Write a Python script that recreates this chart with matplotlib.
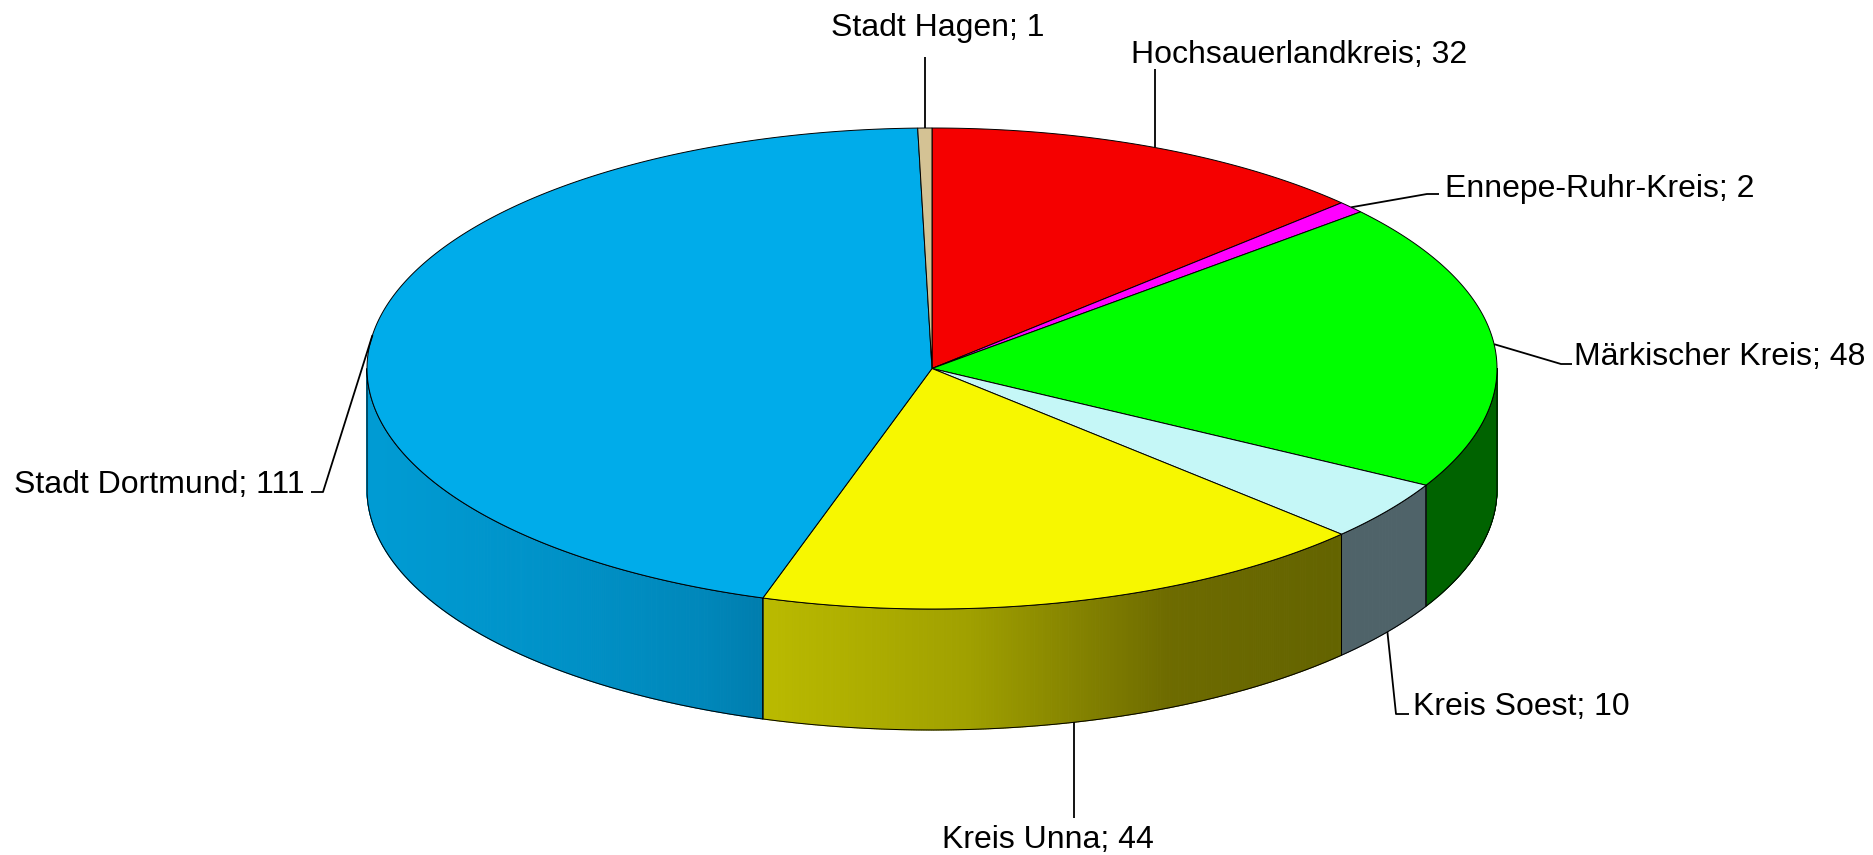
import numpy as np
import matplotlib
matplotlib.use("Agg")
import matplotlib.pyplot as plt

categories = ["Hochsauerlandkreis", "Ennepe-Ruhr-Kreis", "Märkischer Kreis", "Kreis Soest",
              "Kreis Unna", "Stadt Dortmund", "Stadt Hagen"]
values = [32, 2, 48, 10, 44, 111, 1]

top_colors = ["#f50000", "#ff00ff", "#00ff00", "#c5f7f7", "#f7f700", "#00acea", "#d4c294"]
side_stops = [
    [(0, (0.45, 0, 0))],
    [(0, (0.45, 0, 0.45))],
    [(0, (0, 0.39, 0))],
    [(0, (0.31, 0.39, 0.41))],
    [(0, (0.73, 0.73, 0)), (0.35, (0.63, 0.63, 0)), (0.7, (0.43, 0.42, 0)), (1, (0.39, 0.39, 0))],
    [(0, (0, 0.61, 0.83)), (0.5, (0, 0.57, 0.78)), (0.85, (0, 0.53, 0.73)), (1, (0, 0.49, 0.68))],
    [(0, (0.5, 0.45, 0.35))],
]
# label anchor (left x or centre x, centre y), alignment, leader elbow points
label_layout = [
    ((1131, 55), "left", [(None, 69)]),
    ((1445, 189), "left", [(1427, 194), (1439, 194)]),
    ((1574, 357), "left", [(1561, 364), (1572, 364)]),
    ((1413, 707), "left", [(1396, 714), (1409, 714)]),
    ((1048, 840), "center", [(None, 818)]),
    ((305, 485), "right", [(323, 492), (311, 492)]),
    ((938, 28), "center", [(None, 57)]),
]

CX, CY, RX, RY, DEPTH = 932, 368.5, 565, 240.5, 121
EDGE = "#000000"
plt.rcParams["font.family"] = ["Liberation Sans", "DejaVu Sans"]

fig = plt.figure(figsize=(18.73, 8.55), dpi=100)
ax = fig.add_axes([0, 0, 1, 1])
ax.set_xlim(0, 1873)
ax.set_ylim(855, 0)
ax.axis("off")


def rim(theta_deg):
    t = np.radians(theta_deg)
    return CX + RX * np.sin(t), CY - RY * np.cos(t)


def ramp(stops, f):
    pos = [s[0] for s in stops]
    return tuple(float(np.interp(f, pos, [s[1][i] for s in stops])) for i in range(3))


cum = np.concatenate([[0], np.cumsum(values)]) / np.sum(values) * 360.0

# side walls (front half only: 90..270 degrees clockwise from top)
for i in range(len(values)):
    a0, a1 = max(cum[i], 90), min(cum[i + 1], 270)
    if a1 <= a0:
        continue
    th = np.linspace(a0, a1, max(int((a1 - a0) * 4), 2))
    x, y = rim(th)
    span = abs(x[-1] - x[0])
    for k in range(len(th) - 1):
        f = (0.5 * (x[k] + x[k + 1]) - x.min()) / span
        c = ramp(side_stops[i], f)
        ax.fill([x[k], x[k + 1], x[k + 1], x[k]],
                [y[k], y[k + 1], y[k + 1] + DEPTH, y[k] + DEPTH],
                facecolor=c, edgecolor=c, linewidth=0.8, zorder=2)
    ax.plot(np.r_[x, x[::-1], x[0]], np.r_[y, y[::-1] + DEPTH, y[0]],
            color=EDGE, lw=0.7, zorder=3)

# top face
for i in range(len(values)):
    th = np.linspace(cum[i], cum[i + 1], max(int((cum[i + 1] - cum[i]) * 2), 3))
    x, y = rim(th)
    ax.fill(np.r_[CX, x], np.r_[CY, y], facecolor=top_colors[i], edgecolor=EDGE,
            linewidth=0.7, joinstyle="miter", zorder=4)

# labels and leader lines
for i, (name, v) in enumerate(zip(categories, values)):
    (lx, ly), ha, elbow = label_layout[i]
    mid = 0.5 * (cum[i] + cum[i + 1])
    sx, sy = rim(mid)
    if 90 < mid < 270:
        sy += DEPTH
    px, py = [sx], [sy]
    for ex, ey in elbow:
        px.append(sx if ex is None else ex)
        py.append(ey)
    ax.plot(px, py, color="black", lw=1.3, solid_capstyle="butt", zorder=5)
    ax.text(lx, ly, f"{name}; {v}", fontsize=23, ha=ha, va="center", color="black", zorder=6)

fig.savefig("out.png", dpi=100)
